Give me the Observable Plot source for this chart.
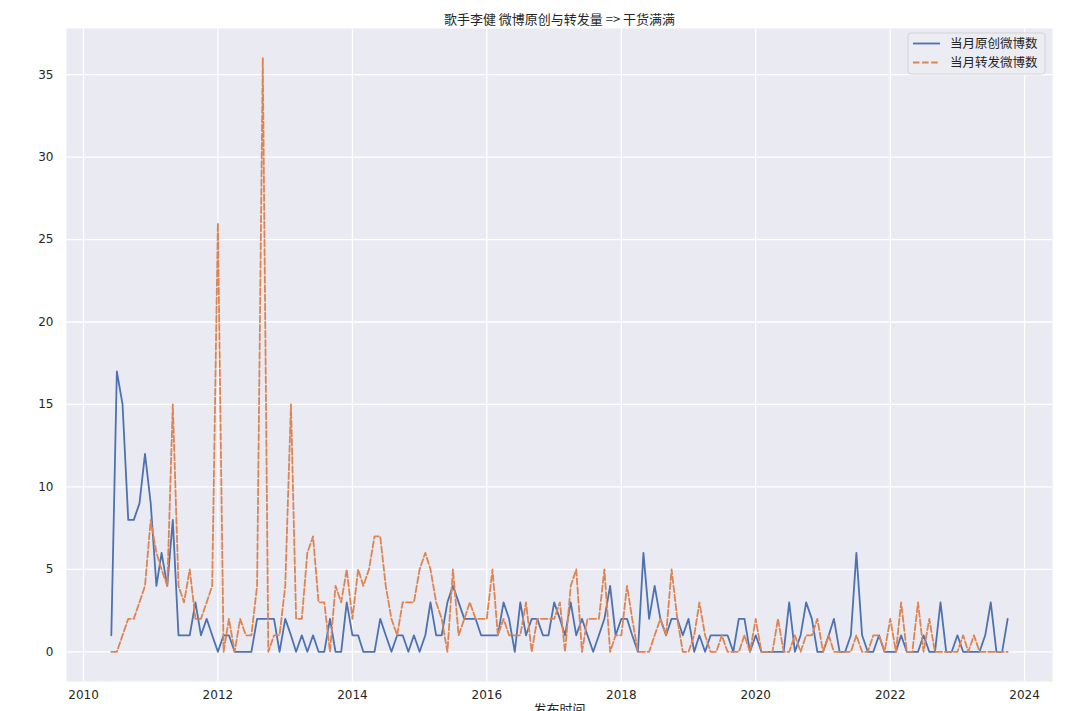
<!DOCTYPE html>
<html><head><meta charset="utf-8">
<script src="https://cdn.jsdelivr.net/npm/d3@7"></script>
<script src="https://cdn.jsdelivr.net/npm/@observablehq/plot@0.6"></script>
<style>
body{margin:0;background:#fff;}
#chart svg{display:block;}
</style>
</head><body><div id="chart"></div>
<script>
// Monthly counts, starting 2010-06
const startYear = 2010;
const startMonth = 6;
const original = [
  1,17,15,8,8,9,12,9,4,6,4,8,
  1,1,1,3,1,2,1,0,1,1,0,0,
  0,0,2,2,2,2,0,2,1,0,1,0,
  1,0,0,2,0,0,3,1,1,0,0,0,
  2,1,0,1,1,0,1,0,1,3,1,1,
  3,4,3,2,2,2,1,1,1,1,3,2,
  0,3,1,2,2,1,1,3,2,1,3,1,
  2,1,0,1,2,4,1,2,2,1,0,6,
  2,4,2,1,2,2,1,2,0,1,0,1,
  1,1,1,0,2,2,0,1,0,0,0,0,
  0,3,0,1,3,2,0,0,1,2,0,0,
  1,6,1,0,0,1,0,0,0,1,0,0,
  0,1,0,0,3,0,0,1,0,0,0,0,
  1,3,0,0,2
];
const retweet = [
  0,0,1,2,2,3,4,8,6,5,4,15,
  4,3,5,2,2,3,4,26,0,2,0,2,
  1,1,4,36,0,1,1,4,15,2,2,6,
  7,3,3,0,4,3,5,2,5,4,5,7,
  7,4,2,1,3,3,3,5,6,5,3,2,
  0,5,1,2,3,2,2,2,5,1,2,1,
  1,1,3,0,2,2,2,2,3,0,4,5,
  0,2,2,2,5,0,1,1,4,2,0,0,
  0,1,2,1,5,2,0,0,1,3,1,0,
  0,1,0,0,0,1,0,2,0,0,0,2,
  0,0,1,0,1,1,2,0,1,0,0,0,
  0,1,0,0,1,1,0,2,0,3,0,0,
  3,0,2,0,0,0,0,0,1,0,1,0,
  0,0,0,0,0
];
const seriesNames = ["当月原创微博数", "当月转发微博数"];
const seriesColors = ["#4C72B0", "#DD8452"];
const xTickYears = [2010, 2012, 2014, 2016, 2018, 2020, 2022, 2024];
const yTicks = [0, 5, 10, 15, 20, 25, 30, 35];
const titleText = "歌手李健 微博原创与转发量 => 干货满满";
const xLabelText = "发布时间";

const months = original.map((_, i) => new Date(Date.UTC(startYear, startMonth - 1 + i, 1)));
const rowsOriginal = months.map((d, i) => ({date: d, value: original[i]}));
const rowsRetweet = months.map((d, i) => ({date: d, value: retweet[i]}));
const xTicks = xTickYears.map(y => new Date(Date.UTC(y, 0, 1)));

const t0 = +months[0], t1 = +months[months.length - 1];
const pad = (t1 - t0) * 0.05;
const yMax = d3.max(retweet.concat(original));
const yPad = yMax * 0.05;

const cjk = "'DejaVu Sans', 'Noto Sans CJK SC', sans-serif";
const dash = "6.5,2.6";

const chart = Plot.plot({
  width: 1080,
  height: 711,
  marginLeft: 66,
  marginRight: 28,
  marginTop: 28,
  marginBottom: 30,
  style: {fontFamily: cjk, fontSize: "12px", color: "#262626", background: "#ffffff", overflow: "visible"},
  x: {type: "utc", domain: [new Date(t0 - pad), new Date(t1 + pad)]},
  y: {domain: [-yPad, yMax + yPad]},
  marks: [
    Plot.frame({fill: "#EAEAF2", stroke: "none"}),
    Plot.gridX(xTicks, {stroke: "#ffffff", strokeOpacity: 1, strokeWidth: 1.3}),
    Plot.gridY(yTicks, {stroke: "#ffffff", strokeOpacity: 1, strokeWidth: 1.3}),
    Plot.axisX(xTicks, {tickSize: 0, tickPadding: 9, tickFormat: d => String(d.getUTCFullYear()), fontSize: 12, label: null}),
    Plot.axisY(yTicks, {tickSize: 0, tickPadding: 13, fontSize: 12, label: null}),
    Plot.lineY(rowsOriginal, {x: "date", y: "value", stroke: seriesColors[0], strokeWidth: 1.8, strokeLinejoin: "round"}),
    Plot.lineY(rowsRetweet, {x: "date", y: "value", stroke: seriesColors[1], strokeWidth: 1.8, strokeDasharray: dash, strokeLinejoin: "round"}),
    Plot.text([titleText], {frameAnchor: "top", dy: -14, fontSize: 13, fill: "#262626", fontFamily: "'Noto Sans CJK SC', sans-serif"}),
    Plot.text([xLabelText], {frameAnchor: "bottom", dy: 32, fontSize: 13, fill: "#262626", fontFamily: "'Noto Sans CJK SC', sans-serif"})
  ]
});

document.getElementById("chart").appendChild(chart);

// Legend (top-right inside the axes)
const svg = d3.select(chart);
const fx1 = 1080 - 28;
const lg = svg.append("g").attr("transform", `translate(${fx1 - 144},33)`);
lg.append("rect").attr("width", 137).attr("height", 41).attr("rx", 3)
  .attr("fill", "#ECECF3").attr("fill-opacity", 0.9).attr("stroke", "#d2d2d8").attr("stroke-width", 1);
seriesNames.forEach((name, i) => {
  const yy = 10.5 + i * 19;
  lg.append("line").attr("x1", 5).attr("x2", 32).attr("y1", yy).attr("y2", yy)
    .attr("stroke", seriesColors[i]).attr("stroke-width", 1.8)
    .attr("stroke-dasharray", i === 1 ? dash : null);
  lg.append("text").attr("x", 42).attr("y", yy).attr("dy", "0.36em")
    .attr("text-anchor", "start")
    .attr("font-size", 12.5).attr("fill", "#262626")
    .attr("font-family", "'Noto Sans CJK SC', sans-serif").text(name);
});
</script>
</body></html>
